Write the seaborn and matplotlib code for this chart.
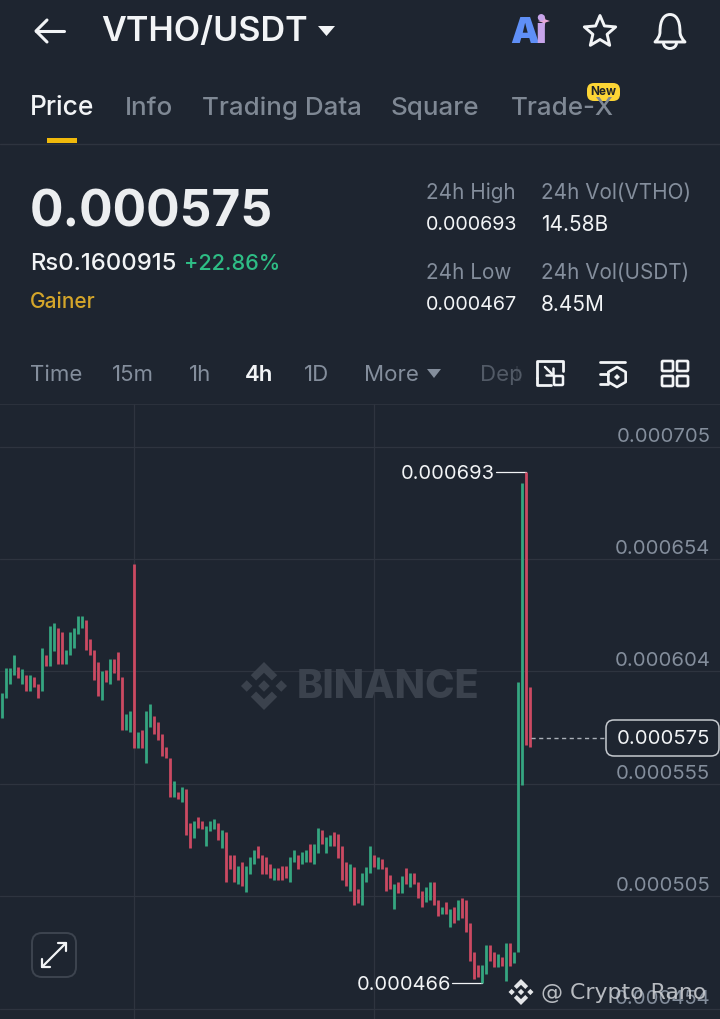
import numpy as np
import pandas as pd
import seaborn as sns
import matplotlib.pyplot as plt
from matplotlib.patches import FancyBboxPatch, Polygon, PathPatch, Rectangle, Arc
from matplotlib.path import Path

# prices below are in millionths of USDT
candle_high = [594.0, 605.2, 605.2, 611.1, 605.9, 604.9, 602.2, 602.2, 601.3, 598.2,
               614.1, 611.1, 624.2, 625.4, 623.3, 621.5, 613.3, 621.4, 623.2, 628.5,
               628.5, 626.7, 618.2, 613.3, 608.1, 604.0, 604.4, 609.3, 609.3, 612.4,
               601.3, 584.9, 586.1, 651.6, 576.9, 577.8, 586.1, 589.2, 584.0, 581.2,
               576.0, 570.0, 565.1, 554.9, 549.9, 552.2, 551.3, 536.1, 537.0, 538.8,
               537.0, 534.8, 537.0, 537.9, 536.1, 533.0, 532.1, 521.8, 521.8, 516.9,
               518.7, 516.9, 520.9, 524.1, 525.8, 521.8, 520.9, 517.8, 516.0, 516.0,
               516.9, 516.9, 520.9, 524.1, 521.8, 523.2, 524.1, 526.7, 526.7, 533.9,
               533.0, 529.9, 530.8, 532.1, 531.2, 525.8, 518.7, 517.8, 516.5, 506.6,
               513.8, 516.5, 525.8, 521.8, 520.9, 520.0, 516.5, 512.9, 508.9, 509.8,
               512.5, 516.0, 513.8, 513.8, 509.8, 505.8, 507.5, 509.8, 509.8, 501.7,
               498.6, 500.8, 497.7, 498.6, 501.7, 502.6, 501.7, 491.5, 478.5, 472.7,
               472.7, 481.7, 481.7, 478.5, 477.6, 476.3, 482.5, 482.5, 478.5, 599.2,
               687.9, 692.8, 596.8]
candle_low = [582.8, 592.0, 598.0, 602.2, 601.0, 598.0, 595.0, 595.0, 596.8, 592.0,
              595.0, 606.2, 606.2, 612.9, 607.2, 607.2, 607.2, 611.1, 614.4, 620.5,
              623.2, 613.3, 611.1, 600.1, 592.9, 590.9, 599.2, 598.0, 603.1, 600.1,
              577.8, 577.8, 576.9, 569.7, 569.7, 569.7, 562.9, 579.0, 576.0, 573.2,
              565.9, 565.1, 547.7, 547.7, 546.8, 545.5, 530.8, 524.9, 529.4, 533.9,
              533.4, 525.8, 532.5, 533.4, 528.5, 524.9, 509.8, 515.6, 509.8, 508.9,
              508.0, 505.3, 513.3, 517.8, 520.5, 513.3, 513.3, 511.6, 510.7, 510.7,
              510.7, 511.6, 509.8, 518.7, 515.6, 517.8, 518.7, 518.7, 517.8, 522.7,
              526.7, 522.7, 525.8, 525.8, 520.5, 510.7, 508.0, 505.8, 499.5, 500.4,
              499.5, 509.8, 513.8, 516.5, 515.6, 515.6, 505.8, 506.6, 497.7, 504.9,
              504.9, 508.9, 507.5, 508.9, 502.6, 498.6, 500.8, 501.7, 499.5, 494.6,
              495.5, 495.5, 489.7, 491.5, 492.8, 493.7, 487.5, 474.5, 466.5, 467.4,
              464.7, 468.7, 474.5, 471.8, 471.8, 472.3, 465.6, 472.3, 473.6, 478.5,
              553.1, 570.9, 570.0]
candle_side = list("ggggrgrgrr" "grggrrgggg" "grrrrgrgrr" "rggrgrggrr" "rrrgrgrrgr"
                   "rgggrgrrrg" "rgggrrrrgr" "rrggrggrgg" "rggrrrrgrr" "gggrgrrrgr"
                   "grgrrrggrr" "grgrgrrrrr" "ggrrgrgrgggrr")

grid_prices = [704.0, 654.0, 603.8, 553.5, 503.5, 453.1]
grid_labels = ["0.000705", "0.000654", "0.000604", "0.000555", "0.000505", "0.000454"]
time_grid = [33, 93]
last_price = 574.1
high_price, high_index = 692.8, 131
low_price, low_index = 464.7, 120

BG = "#1e2530"
GRID = "#2e343f"
GREY = "#848e9c"
WHITE = "#f2f4f6"
UP = "#35a680"
DOWN = "#cb4a62"
GOLD = "#f0b90b"

sns.set_theme(style="dark", rc={"axes.facecolor": BG, "figure.facecolor": BG})
plt.rcParams["font.family"] = ["Inter", "Noto Sans", "DejaVu Sans"]

frame = pd.DataFrame({"candle": range(len(candle_high)), "high": candle_high,
                      "low": candle_low, "side": candle_side})
long = frame.melt(id_vars=["candle", "side"], value_vars=["high", "low"], value_name="price")

fig = plt.figure(figsize=(7.2, 10.19), dpi=100)
ax = fig.add_axes([0, 0, 1, (1019 - 404) / 1019])

for loc in grid_prices:
    ax.axhline(loc, color=GRID, lw=0.9, zorder=0)
for loc in time_grid:
    ax.axvline(loc, color=GRID, lw=0.9, zorder=0)
ax.axhline(723.2, color=GRID, lw=1.2, zorder=0)

sns.lineplot(data=long, x="candle", y="price", hue="side", units="candle", estimator=None,
             palette={"g": UP, "r": DOWN}, lw=2.0, legend=False, ax=ax, zorder=3,
             solid_capstyle="butt")
ax.set_xlim(-0.42, 179.6)
ax.set_ylim(448.6, 723.2)
ax.set(xlabel="", ylabel="", xticks=[], yticks=[])
sns.despine(ax=ax, left=True, bottom=True)

for loc, text in zip(grid_prices, grid_labels):
    ax.annotate(text, (1, loc), xycoords=ax.get_yaxis_transform(), xytext=(-7, 7.4),
                textcoords="offset points", ha="right", va="center", color=GREY, fontsize=14.6, zorder=4)

# high / low markers
for price, index, text in [(high_price, high_index, "0.000693"), (low_price, low_index, "0.000466")]:
    ax.plot([index - 7.5, index], [price, price], color=WHITE, lw=0.9, zorder=2)
    ax.annotate(text, (index, price), xytext=(-22, -1.2), textcoords="offset points",
                ha="right", va="center", color=WHITE, fontsize=14.4, zorder=5)
ax.plot([132.4, 151.2], [last_price, last_price], color="#aab0b8", lw=1, ls=(0, (3, 2.5)), zorder=4)

# pixel-space layer for the app chrome
ui = fig.add_axes([0, 0, 1, 1], zorder=5)
ui.set_xlim(0, 720)
ui.set_ylim(1019, 0)
ui.axis("off")
ui.patch.set_alpha(0)


def label(x, y, s, size=15, color=GREY, weight="normal", ha="left", **kw):
    ui.text(x, y + 2, s, fontsize=size, color=color, fontweight=weight, ha=ha, va="center", **kw)


def line(xs, ys, color=WHITE, lw=2, **kw):
    ui.plot(xs, ys, color=color, lw=lw, solid_capstyle="round", solid_joinstyle="round", **kw)


def rrect(x, y, w, h, r, fc="none", ec=WHITE, lw=1.5, **kw):
    ui.add_patch(FancyBboxPatch((x + r, y + r), w - 2 * r, h - 2 * r,
                                boxstyle=f"round,pad={r},rounding_size={r}",
                                fc=fc, ec=ec, lw=lw, **kw))


def logo(cx, cy, s, color):
    for dx in (-0.72, 0, 0.72):
        r = 0.24
        ui.add_patch(Polygon([(cx + (dx - r) * s, cy), (cx + dx * s, cy - r * s),
                              (cx + (dx + r) * s, cy), (cx + dx * s, cy + r * s)], fc=color, ec="none"))
    for sign in (-1, 1):
        pts = [(0, -1), (.55, -.45), (.33, -.23), (0, -.55), (-.33, -.23), (-.55, -.45)]
        ui.add_patch(Polygon([(cx + a * s, cy + sign * b * s * -1) for a, b in pts], fc=color, ec="none"))


# header
line([36, 64], [31, 31], lw=2.2)
line([47, 36, 47], [20, 31, 42], lw=2.2)
label(101, 30, "VTHO/USDT", 24.6, WHITE, "semibold")
ui.add_patch(Polygon([(318, 26), (335, 26), (326.5, 36)], fc=WHITE, ec="none", joinstyle="round"))
label(510, 31, "A", 26, "#5f8ff6", "black")
label(535, 31, "i", 26, "#c7a4ea", "black")
ui.add_patch(Polygon([(544, 15), (545.5, 19.5), (550, 21), (545.5, 22.5), (544, 27),
                      (542.5, 22.5), (538, 21), (542.5, 19.5)], fc="#e8a9d8", ec="none"))
star = [(600 + (16.5 if i % 2 == 0 else 7.5) * np.sin(i * np.pi / 5),
         32 - (16.5 if i % 2 == 0 else 7.5) * np.cos(i * np.pi / 5)) for i in range(10)]
ui.add_patch(Polygon(star, fc="none", ec=WHITE, lw=2.1, joinstyle="round"))
bell = Path([(655, 42), (660, 37), (660, 32), (660, 20), (664, 14.5), (670, 14.5),
             (676, 14.5), (680, 20), (680, 32), (680, 37), (685, 42), (655, 42)],
            [Path.MOVETO, Path.CURVE3, Path.CURVE3, Path.CURVE4, Path.CURVE4, Path.CURVE4,
             Path.CURVE4, Path.CURVE4, Path.CURVE4, Path.CURVE3, Path.CURVE3, Path.CLOSEPOLY])
ui.add_patch(PathPatch(bell, fc="none", ec=WHITE, lw=2.1, joinstyle="round"))
ui.add_patch(Arc((670, 43), 13, 11, theta1=0, theta2=180, ec=WHITE, lw=2.1))

# tabs
label(30, 106, "Price", 19, WHITE, "medium")
for x, s in [(125, "Info"), (202, "Trading Data"), (391, "Square"), (511, "Trade-X")]:
    label(x, 106, s, 18.7, "#7f8894", "medium")
rrect(587, 83, 33, 18, 7, fc="#fcd535", ec="none", lw=0)
label(603.5, 90, "New", 8.5, "#1e2329", "bold", ha="center")
ui.add_patch(Rectangle((47, 137.5), 30, 5.5, fc=GOLD, ec="none"))
ui.plot([0, 720], [143.5, 143.5], color=GRID, lw=1)

# price block
label(30, 211, "0.000575", 35.8, "#eceef0", "bold")
label(30, 262, "Rs0.1600915", 17.2, WHITE, "medium")
label(184, 262, "+22.86%", 15.6, "#2ebd85", "medium")
label(30, 300, "Gainer", 15, "#d4a52a", "medium")
for x, top, val in [(426, "24h High", "0.000693"), (541, "24h Vol(VTHO)", "14.58B")]:
    label(x, 191, top, 14.9, GREY)
    label(x, 223, val, 14.2 if val.startswith("0.") else 15, WHITE)
for x, top, val in [(426, "24h Low", "0.000467"), (541, "24h Vol(USDT)", "8.45M")]:
    label(x, 271, top, 14.9, GREY)
    label(x, 303, val, 14.2 if val.startswith("0.") else 15, WHITE)

# interval row
for x, s in [(30, "Time"), (112, "15m"), (189, "1h"), (304, "1D"), (364, "More")]:
    label(x, 373, s, 16, GREY)
label(245, 373, "4h", 16, WHITE, "semibold")
ui.add_patch(Polygon([(427, 369), (441, 369), (434, 378)], fc=GREY, ec="none"))
label(480, 373, "Dep", 16, "#525a66")
label(514, 373, "t", 16, "#2f3641", zorder=1)

line([537, 537, 563, 563], [378, 361, 361, 371], lw=2)
line([537, 537, 551], [378, 385, 385], lw=2)
rrect(554, 376, 9, 9, 1, ec=WHITE, lw=1.8)
line([545, 553], [367, 375], lw=1.8)
line([546, 553, 553], [375, 375, 368], lw=1.8)

line([600, 625], [362, 362], lw=2)
line([600, 608], [374, 374], lw=2)
line([600, 608], [384, 384], lw=2)
hexa = [(617 + 10 * np.sin(i * np.pi / 3), 377 + 10 * np.cos(i * np.pi / 3)) for i in range(6)]
ui.add_patch(Polygon(hexa, fc="none", ec=WHITE, lw=1.9, joinstyle="round"))
ui.add_patch(Polygon([(617, 374), (620, 377), (617, 380), (614, 377)], fc=WHITE, ec="none"))

for x in (662, 677):
    for y in (361, 376):
        rrect(x, y, 11, 10, 1, ec=WHITE, lw=1.9)

# watermark
logo(264, 686, 24, "#3b424d")
label(297, 686, "BINANCE", 28.5, "#3b424d", "heavy", zorder=1)

# last price tag
rrect(606, 720, 113, 36, 8, fc=BG, ec="#c6cacf", lw=1.1)
label(617, 737, "0.000575", 14.6, WHITE)

# expand button
rrect(32, 933, 44, 44, 10, fc=BG, ec="#3d444f", lw=1.4)
line([42, 66], [967, 943], lw=1.6)
line([42, 42, 50], [959, 967, 967], lw=1.6)
line([58, 66, 66], [943, 943, 951], lw=1.6)

# user watermark at the bottom
logo(521, 992, 13, "#e4e6e9")
ui.text(541, 993, "@ Crypto Rano", fontsize=15.8, color="#c9ccd1", family="DejaVu Sans",
        ha="left", va="center", alpha=0.9)

fig.savefig("out.png", dpi=100, facecolor=BG)
